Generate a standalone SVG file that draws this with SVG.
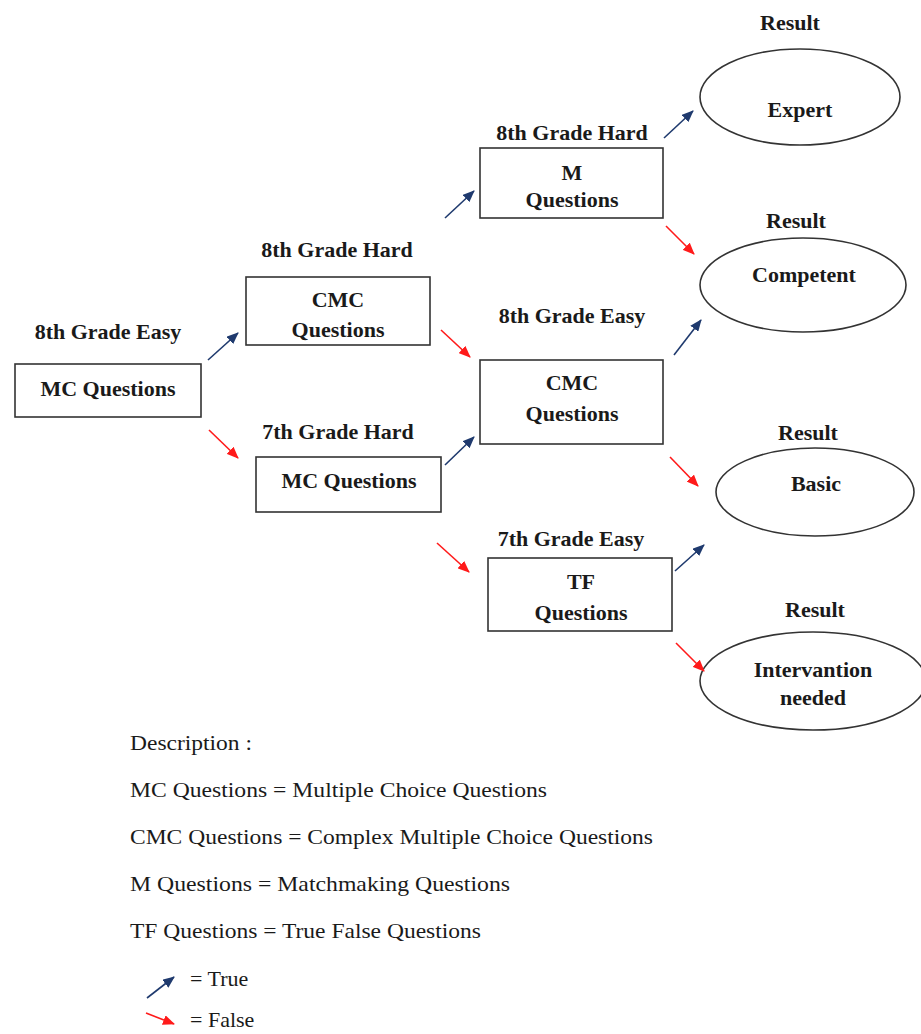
<svg xmlns="http://www.w3.org/2000/svg" width="921" height="1034" viewBox="0 0 921 1034">
<defs>
<marker id="ah-true" markerUnits="userSpaceOnUse" markerWidth="12" markerHeight="10" refX="11" refY="5" orient="auto"><path d="M0,0 L12,5 L0,10 z" fill="#1f3a6e"/></marker>
<marker id="ah-false" markerUnits="userSpaceOnUse" markerWidth="12" markerHeight="10" refX="11" refY="5" orient="auto"><path d="M0,0 L12,5 L0,10 z" fill="#ff1a1a"/></marker>
<style>
.box{fill:#fff;stroke:#333;stroke-width:1.6}
.ell{fill:#fff;stroke:#333;stroke-width:1.6}
.b{font-family:"Liberation Serif",serif;font-weight:bold;font-size:22px;fill:#1a1a1a;text-anchor:middle}
.d{font-family:"Liberation Serif",serif;font-size:22px;fill:#1a1a1a}
.t{stroke:#1f3a6e;stroke-width:1.6;fill:none;marker-end:url(#ah-true)}
.f{stroke:#ff1a1a;stroke-width:1.6;fill:none;marker-end:url(#ah-false)}
</style>
</defs>
<rect width="921" height="1034" fill="#fff"/>

<g id="n1"><text class="b" x="108" y="339">8th Grade Easy</text><rect class="box" x="15" y="364" width="186" height="53"/><text class="b" x="108" y="396">MC Questions</text></g>
<g id="n2"><text class="b" x="337" y="257">8th Grade Hard</text><rect class="box" x="246" y="277" width="184" height="68"/><text class="b" x="338" y="307">CMC</text><text class="b" x="338" y="337">Questions</text></g>
<g id="n3"><text class="b" x="338" y="439">7th Grade Hard</text><rect class="box" x="256" y="457" width="185" height="55"/><text class="b" x="349" y="488">MC Questions</text></g>
<g id="n4"><text class="b" x="572" y="140">8th Grade Hard</text><rect class="box" x="480" y="148" width="183" height="70"/><text class="b" x="572" y="180">M</text><text class="b" x="572" y="207">Questions</text></g>
<g id="n5"><text class="b" x="572" y="323">8th Grade Easy</text><rect class="box" x="480" y="360" width="183" height="84"/><text class="b" x="572" y="390">CMC</text><text class="b" x="572" y="421">Questions</text></g>
<g id="n6"><text class="b" x="571" y="546">7th Grade Easy</text><rect class="box" x="488" y="558" width="184" height="73"/><text class="b" x="581" y="589">TF</text><text class="b" x="581" y="620">Questions</text></g>

<g id="r1"><text class="b" x="790" y="30">Result</text><ellipse class="ell" cx="800" cy="97" rx="100" ry="48"/><text class="b" x="800" y="117">Expert</text></g>
<g id="r2"><text class="b" x="796" y="228">Result</text><ellipse class="ell" cx="803" cy="285" rx="103" ry="47"/><text class="b" x="804" y="282">Competent</text></g>
<g id="r3"><text class="b" x="808" y="440">Result</text><ellipse class="ell" cx="815" cy="492" rx="99" ry="44"/><text class="b" x="816" y="491">Basic</text></g>
<g id="r4"><text class="b" x="815" y="617">Result</text><ellipse class="ell" cx="813" cy="681" rx="113" ry="49"/><text class="b" x="813" y="677">Intervantion</text><text class="b" x="813" y="705">needed</text></g>

<g id="connectors">
<line class="t" x1="208" y1="360" x2="238" y2="333"/>
<line class="f" x1="209" y1="430" x2="238" y2="458"/>
<line class="t" x1="445" y1="218" x2="474" y2="191"/>
<line class="f" x1="441" y1="330" x2="470" y2="357"/>
<line class="t" x1="445" y1="465" x2="474" y2="437"/>
<line class="f" x1="437" y1="543" x2="469" y2="572"/>
<line class="t" x1="664" y1="138" x2="693" y2="111"/>
<line class="f" x1="666" y1="226" x2="694" y2="254"/>
<line class="t" x1="674" y1="355" x2="701" y2="320"/>
<line class="f" x1="670" y1="457" x2="698" y2="486"/>
<line class="t" x1="675" y1="571" x2="704" y2="545"/>
<line class="f" x1="676" y1="643" x2="704" y2="671"/>
</g>

<g id="legend">
<text class="d" x="130" y="750" textLength="122" lengthAdjust="spacingAndGlyphs">Description :</text>
<text class="d" x="130" y="797" textLength="417" lengthAdjust="spacingAndGlyphs">MC Questions = Multiple Choice Questions</text>
<text class="d" x="130" y="844" textLength="523" lengthAdjust="spacingAndGlyphs">CMC Questions = Complex Multiple Choice Questions</text>
<text class="d" x="130" y="891" textLength="380" lengthAdjust="spacingAndGlyphs">M Questions = Matchmaking Questions</text>
<text class="d" x="130" y="938" textLength="351" lengthAdjust="spacingAndGlyphs">TF Questions = True False Questions</text>
<line class="t" x1="147" y1="998" x2="174" y2="977"/>
<text class="d" x="190" y="986">= True</text>
<line class="f" x1="146" y1="1013" x2="174" y2="1024"/>
<text class="d" x="190" y="1027">= False</text>
</g>
</svg>
